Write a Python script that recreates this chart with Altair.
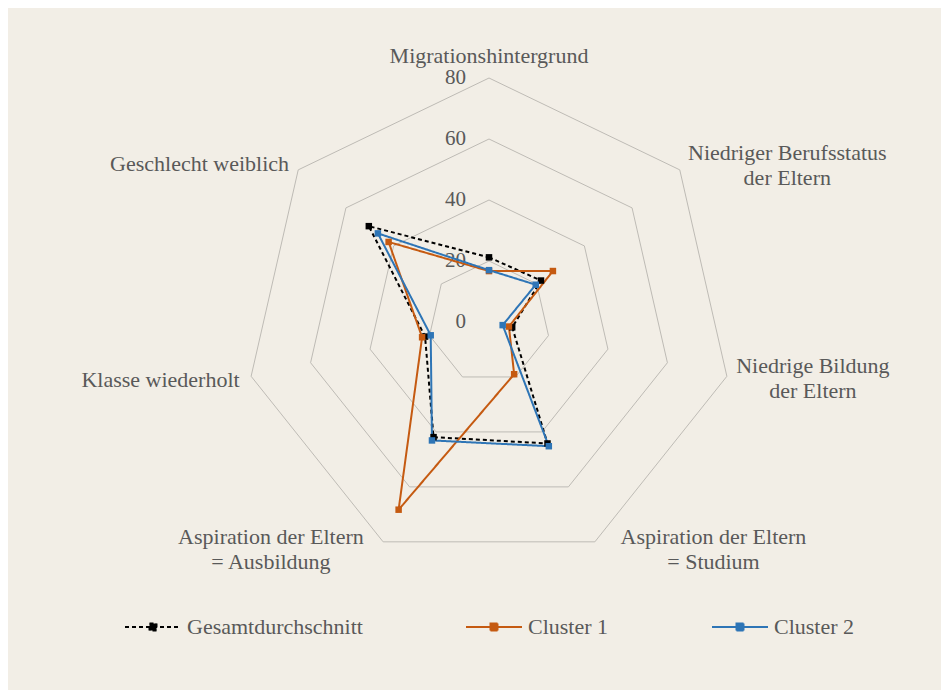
import altair as alt
import pandas as pd

# ---------------- data ----------------
CATEGORIES = [
    "Migrationshintergrund",
    "Niedriger Berufsstatus\nder Eltern",
    "Niedrige Bildung\nder Eltern",
    "Aspiration der Eltern\n= Studium",
    "Aspiration der Eltern\n= Ausbildung",
    "Klasse wiederholt",
    "Geschlecht weiblich",
]
SERIES = ["Gesamtdurchschnitt", "Cluster 1", "Cluster 2"]
GESAMT = [21.2, 21.8, 7.8, 44.2, 41.9, 21.5, 50.4]
CLUSTER1 = [16.7, 26.8, 6.7, 19.0, 68.3, 22.5, 42.1]
CLUSTER2 = [17.0, 19.6, 4.6, 45.2, 43.1, 19.6, 46.6]
TICKS = [0, 20, 40, 60, 80]

# ---------------- layout / style ----------------
LABEL_X = [0.0, 97.8, 106.2, 73.6, -71.5, -107.7, -94.9]   # label anchors in value units
LABEL_Y = [87.2, 55.5, -14.5, -70.6, -70.6, -19.0, 51.8]
COLORS = ["#000000", "#C55A11", "#2E75B6"]
DASHES = [[4, 3], [1, 0], [1, 0]]
BG = "#F2EEE6"
TEXT = "#595959"
GRID = "#BEBBB5"
FONT = "Liberation Serif"
W, H = 933, 682
UNIT = 3.05          # px per value unit
CX, CY = 481, 314    # center in plot px
XDOM = [-CX / UNIT, (W - CX) / UNIT]
YDOM = [-(H - CY) / UNIT, CY / UNIT]
N = len(CATEGORIES)

# ---------------- tables ----------------
rows = []
for name, vals in zip(SERIES, [GESAMT, CLUSTER1, CLUSTER2]):
    for k in range(N + 1):
        rows.append({"series": name, "k": k, "value": vals[k % N]})
series_df = pd.DataFrame(rows)

grid_df = pd.DataFrame(
    [{"level": lv, "k": k} for lv in TICKS if lv > 0 for k in range(N + 1)]
)
tick_df = pd.DataFrame({"level": TICKS, "label": [str(t) for t in TICKS]})
label_df = pd.DataFrame({"label": CATEGORIES, "lx": LABEL_X, "ly": LABEL_Y})

xs = alt.Scale(domain=XDOM, nice=False, zero=False)
ys = alt.Scale(domain=YDOM, nice=False, zero=False)

ANG = "datum.k * 2 * PI / 7"


def legend():
    return alt.Legend(
        title=None,
        orient="none",
        legendX=134,
        legendY=608,
        direction="horizontal",
        columns=3,
        columnPadding=99,
        symbolType="M-4,0H4M-0.5,-0.5H0.5V0.5H-0.5Z",
        symbolSize=196,
        symbolStrokeWidth=2,
        labelOffset=23,
        labelLimit=400,
        labelFont=FONT,
        labelFontSize=22,
        labelColor=TEXT,
    )


grid = (
    alt.Chart(grid_df)
    .transform_calculate(
        gx=f"datum.level * sin({ANG})", gy=f"datum.level * cos({ANG})"
    )
    .mark_line(color=GRID, strokeWidth=1)
    .encode(
        x=alt.X("gx:Q", scale=xs, axis=None),
        y=alt.Y("gy:Q", scale=ys, axis=None),
        detail="level:N",
        order="k:Q",
    )
)

ticks = (
    alt.Chart(tick_df)
    .transform_calculate(tx="0")
    .mark_text(align="right", baseline="middle", dx=-23, font=FONT, fontSize=21, color=TEXT)
    .encode(
        x=alt.X("tx:Q", scale=xs, axis=None),
        y=alt.Y("level:Q", scale=ys, axis=None),
        text="label:N",
    )
)

cats = (
    alt.Chart(label_df)
    .mark_text(align="center", baseline="middle", lineBreak="\n", lineHeight=25,
               font=FONT, fontSize=22, color=TEXT)
    .encode(
        x=alt.X("lx:Q", scale=xs, axis=None),
        y=alt.Y("ly:Q", scale=ys, axis=None),
        text="label:N",
    )
)

base = alt.Chart(series_df).transform_calculate(
    px=f"datum.value * sin({ANG})", py=f"datum.value * cos({ANG})"
)

lines = base.mark_line(strokeWidth=2).encode(
    x=alt.X("px:Q", scale=xs, axis=None),
    y=alt.Y("py:Q", scale=ys, axis=None),
    stroke=alt.Stroke("series:N", scale=alt.Scale(domain=SERIES, range=COLORS), legend=legend()),
    strokeDash=alt.StrokeDash("series:N", scale=alt.Scale(domain=SERIES, range=DASHES), legend=legend()),
    order="k:Q",
)

points = base.transform_filter("datum.k < 7").mark_square(size=42, opacity=1).encode(
    x=alt.X("px:Q", scale=xs, axis=None),
    y=alt.Y("py:Q", scale=ys, axis=None),
    fill=alt.Fill("series:N", scale=alt.Scale(domain=SERIES, range=COLORS), legend=legend()),
)

chart = (
    alt.layer(grid, ticks, cats, lines, points)
    .properties(width=W, height=H, padding=0, background=BG,
                autosize=alt.AutoSizeParams(type="none"))
    .configure_view(stroke=None)
)

chart.save("out.html", embed_options={"renderer": "svg", "actions": False})
